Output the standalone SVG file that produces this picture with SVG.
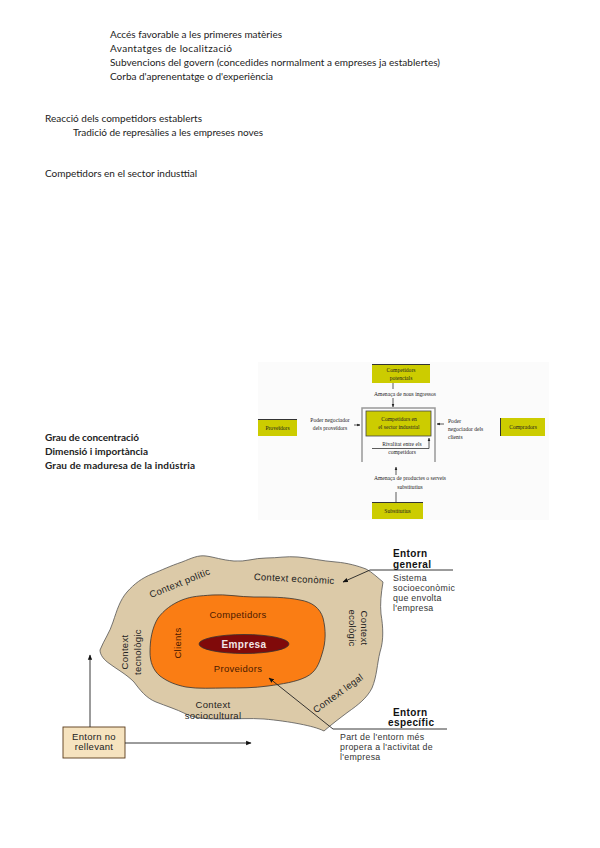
<svg xmlns="http://www.w3.org/2000/svg" width="600" height="848" viewBox="0 0 600 848">
<style>
.t{font-family:Lato,"Liberation Sans",sans-serif;font-size:10px;fill:#222}
.tb{font-family:Lato,"Liberation Sans",sans-serif;font-size:10px;font-weight:bold;fill:#222}
.p{font-family:"Liberation Serif",serif;font-size:5.6px;fill:#222;text-anchor:middle}
.pl{font-family:"Liberation Serif",serif;font-size:5.6px;fill:#222}
.pbox{fill:#cccc00}
.pedge{stroke:#333;stroke-width:1}
.pline{stroke:#333;stroke-width:0.8;fill:none}
.e{font-family:"Liberation Sans",Arial,sans-serif;font-size:9.5px;fill:#222;letter-spacing:0.3px}
.es{font-family:"Liberation Sans",Arial,sans-serif;font-size:8.8px;fill:#333;letter-spacing:0.3px}
.eb{font-family:"Liberation Sans",Arial,sans-serif;font-size:10px;font-weight:bold;fill:#111;letter-spacing:0.4px}
.conn{stroke:#222;stroke-width:0.9;fill:none}
</style>
<defs>
<marker id="ah" viewBox="0 0 10 10" refX="9" refY="5" markerWidth="6" markerHeight="6" orient="auto">
<path d="M0,1 L10,5 L0,9 Z" fill="#111"/>
</marker>
<marker id="ahs" viewBox="0 0 10 10" refX="9" refY="5" markerWidth="4" markerHeight="4" orient="auto">
<path d="M0,1 L10,5 L0,9 Z" fill="#222"/>
</marker>
</defs>
<rect width="600" height="848" fill="#fff"/>

<g id="text-top">
<text class="t" x="110" y="38" textLength="172">Accés favorable a les primeres matèries</text>
<text class="t" x="110" y="52" textLength="122">Avantatges de localització</text>
<text class="t" x="110" y="66" textLength="330">Subvencions del govern (concedides normalment a empreses ja establertes)</text>
<text class="t" x="110" y="80">Corba d'aprenentatge o d'experiència</text>
<text class="t" x="45" y="122" textLength="157">Reacció dels competidors establerts</text>
<text class="t" x="73" y="136" textLength="190">Tradició de represàlies a les empreses noves</text>
<text class="t" x="45" y="177" textLength="152">Competidors en el sector industtial</text>
<text class="tb" x="45" y="441" textLength="94">Grau de concentració</text>
<text class="tb" x="45" y="455" textLength="103">Dimensió i importància</text>
<text class="tb" x="45" y="469" textLength="150">Grau de maduresa de la indústria</text>
</g>

<g id="porter">
<rect x="258" y="362" width="291" height="158" fill="#fbfbfb"/>
<g id="p-potencials">
<rect class="pbox" x="372" y="364" width="58" height="19"/>
<line class="pedge" x1="372" y1="364.5" x2="430" y2="364.5"/>
<text class="p" x="401" y="372">Competidors</text>
<text class="p" x="401" y="380">potencials</text>
</g>
<g id="p-sector">
<path d="M362,462 V408 H435 V462" fill="none" stroke="#999" stroke-width="1.5"/>
<rect class="pbox" x="366" y="411" width="65" height="25" stroke="#444" stroke-width="0.8"/>
<text class="p" x="399" y="421">Competidors en</text>
<text class="p" x="399" y="429">el sector industrial</text>
</g>
<g id="p-proveidors">
<rect class="pbox" x="258" y="419" width="39" height="17"/>
<line class="pedge" x1="258" y1="419.5" x2="297" y2="419.5"/>
<text class="p" x="277.5" y="430">Proveïdors</text>
</g>
<g id="p-compradors">
<rect class="pbox" x="500" y="418" width="45" height="18"/>
<line class="pedge" x1="500.5" y1="418" x2="500.5" y2="436"/>
<text class="p" x="523" y="429">Compradors</text>
</g>
<g id="p-substitutius">
<rect class="pbox" x="372" y="502" width="51" height="17"/>
<line class="pedge" x1="372" y1="502.5" x2="423" y2="502.5"/>
<text class="p" x="397.5" y="513">Substitutius</text>
</g>
<g id="p-connectors">
<line class="pline" x1="393" y1="383" x2="393" y2="389"/>
<line class="pline" x1="393" y1="398" x2="393" y2="407" marker-end="url(#ahs)"/>
<line class="pline" x1="354" y1="425" x2="360" y2="425" marker-end="url(#ahs)"/>
<line class="pline" x1="444" y1="424" x2="437" y2="424" marker-end="url(#ahs)"/>
<path class="pline" d="M372,448.5 H429 V438" marker-end="url(#ahs)"/>
<line class="pline" x1="396" y1="475" x2="396" y2="467" marker-end="url(#ahs)"/>
<line class="pline" x1="396" y1="492" x2="396" y2="502"/>
<text class="p" x="405" y="396">Amenaça de nous ingressos</text>
<text class="p" x="330" y="422">Poder negociador</text>
<text class="p" x="330" y="430">dels proveïdors</text>
<text class="pl" x="448" y="423">Poder</text>
<text class="pl" x="448" y="431">negociador dels</text>
<text class="pl" x="448" y="439">clients</text>
<text class="p" x="402" y="446">Rivalitat entre els</text>
<text class="p" x="402" y="454">competidors</text>
<text class="p" x="410" y="480">Amenaça de productes o serveis</text>
<text class="p" x="410" y="489">substitutius</text>
</g>
</g>

<g id="entorn">
<g id="entorn-general-blob">
<path d="M100,650 C104,640 110,632 113,622 C117,610 120,600 127,592 C134,584 142,578 152,574 C162,570 170,566 182,562 C192,558 198,555 206,556 C214,557 222,560 234,561 C246,562 254,558 266,558 C278,558 286,556 298,557 C310,558 322,561 336,562 C348,563 358,566 366,569 C372,572 378,578 383,582 C381,594 380,604 381,614 C383,626 384,640 380,652 C377,664 377,676 372,688 C367,698 358,705 348,712 C340,718 332,724 324,731 C318,728 310,726 300,724 C290,722 276,720 264,719 C250,718 236,719 222,719 C210,719 196,719 186,714 C176,709 166,706 156,702 C146,698 140,690 134,682 C126,674 118,670 110,664 C104,660 100,655 100,650 Z" fill="#dccaa8" stroke="#555" stroke-width="0.8"/>
<text class="e" transform="translate(181,586) rotate(-22)" text-anchor="middle">Context polític</text>
<text class="e" transform="translate(294,582) rotate(3)" text-anchor="middle">Context econòmic</text>
<text class="e" transform="translate(128,652) rotate(-90)" text-anchor="middle">Context</text>
<text class="e" transform="translate(141,652) rotate(-90)" text-anchor="middle">tecnològic</text>
<text class="e" transform="translate(361,628) rotate(90)" text-anchor="middle">Context</text>
<text class="e" transform="translate(349,628) rotate(90)" text-anchor="middle">ecològic</text>
<text class="e" transform="translate(340,696) rotate(-36)" text-anchor="middle">Context legal</text>
<text class="e" x="213" y="708" text-anchor="middle">Context</text>
<text class="e" x="213" y="719" text-anchor="middle">sociocultural</text>
</g>
<g id="entorn-especific-blob">
<path d="M150,652 C150,640 152,628 158,618 C164,610 172,604 182,600 C192,596 200,596 212,595 C226,594 240,597 254,597 C270,597 286,597 300,600 C312,602 320,608 323,618 C326,630 326,642 322,654 C319,664 316,672 306,677 C296,682 282,684 268,686 C254,688 240,688 226,688 C212,688 198,689 186,687 C176,685 168,682 160,676 C153,670 150,662 150,652 Z" fill="#fa7d14" stroke="#333" stroke-width="0.8"/>
<text class="e" x="238" y="618" text-anchor="middle" style="fill:#4a1a00">Competidors</text>
<text class="e" x="238" y="672" text-anchor="middle" style="fill:#4a1a00">Proveidors</text>
<text class="e" transform="translate(181,643) rotate(-90)" text-anchor="middle" style="fill:#4a1a00">Clients</text>
</g>
<g id="empresa">
<ellipse cx="244" cy="644" rx="45" ry="9.5" fill="#800a0a" stroke="#333" stroke-width="0.8"/>
<text class="eb" x="244" y="648" text-anchor="middle" style="fill:#f3e6e6">Empresa</text>
</g>
<g id="entorn-no-rellevant">
<rect x="63" y="727" width="62" height="31" fill="#f6e3bf" stroke="#5a3a1a" stroke-width="0.9"/>
<text class="e" x="94" y="740" text-anchor="middle">Entorn no</text>
<text class="e" x="94" y="750" text-anchor="middle">rellevant</text>
</g>
<g id="label-general">
<text class="eb" x="393" y="557">Entorn</text>
<text class="eb" x="393" y="568">general</text>
<text class="es" x="393" y="581">Sistema</text>
<text class="es" x="393" y="591">socioeconòmic</text>
<text class="es" x="393" y="601">que envolta</text>
<text class="es" x="393" y="611">l'empresa</text>
</g>
<g id="label-especific">
<text class="eb" x="393" y="716">Entorn</text>
<text class="eb" x="388" y="726">específic</text>
<text class="es" x="340" y="740">Part de l'entorn més</text>
<text class="es" x="340" y="750">propera a l'activitat de</text>
<text class="es" x="340" y="760">l'empresa</text>
</g>
<g id="connectors">
<line class="conn" x1="370" y1="570" x2="453" y2="570"/>
<line class="conn" x1="370" y1="570" x2="343" y2="582" marker-end="url(#ah)"/>
<line class="conn" x1="333" y1="729" x2="447" y2="729"/>
<line class="conn" x1="333" y1="729" x2="269" y2="678" marker-end="url(#ah)"/>
<line class="conn" x1="90" y1="727" x2="90" y2="655" marker-end="url(#ah)"/>
<line class="conn" x1="125" y1="743" x2="251" y2="743" marker-end="url(#ah)"/>
</g>
</g>
</svg>
